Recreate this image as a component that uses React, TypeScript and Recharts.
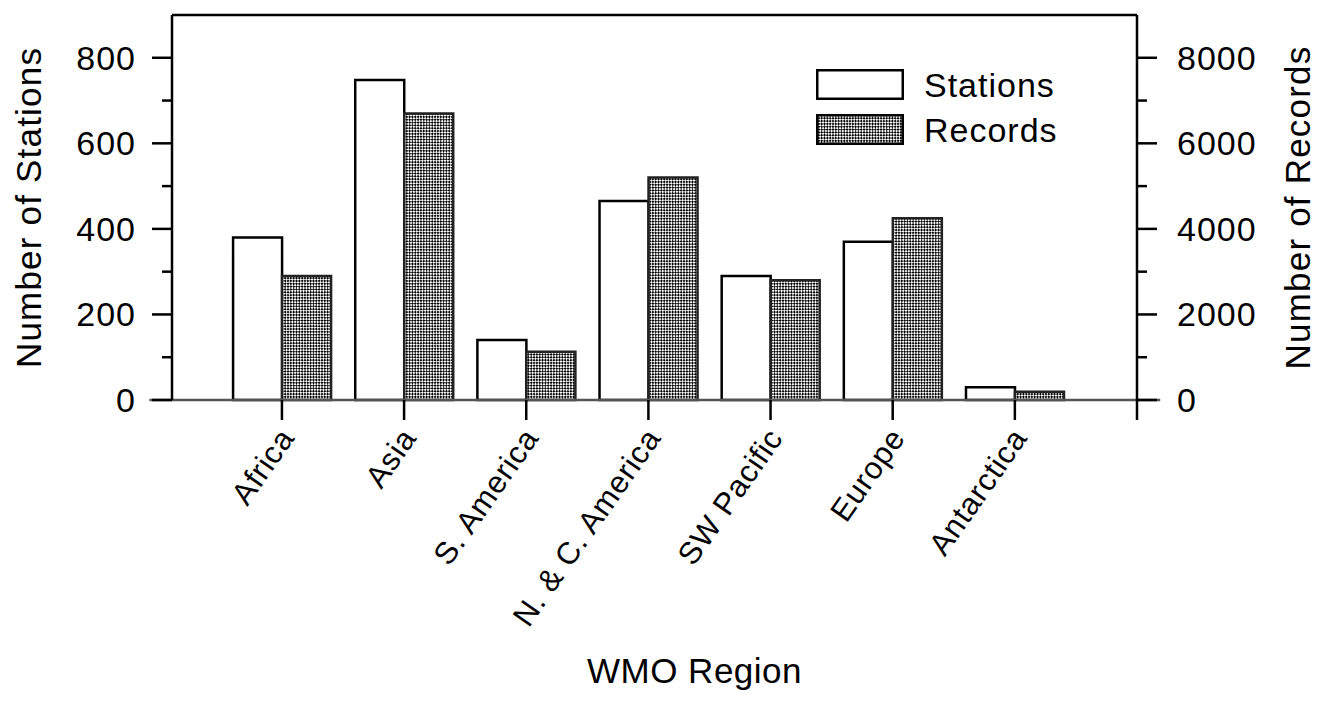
import React from "react";
import { BarChart, Bar, XAxis, YAxis, ReferenceLine, Legend } from "recharts";

const categories = ["Africa", "Asia", "S. America", "N. & C. America", "SW Pacific", "Europe", "Antarctica"];
const stations = [380, 748, 140, 465, 290, 370, 30];
const records = [2900, 6700, 1130, 5200, 2800, 4250, 190];
const leftTicks = [0, 100, 200, 300, 400, 500, 600, 700, 800];
const rightTicks = [0, 1000, 2000, 3000, 4000, 5000, 6000, 7000, 8000];
const xTicks = [1, 2, 3, 4, 5, 6, 7, 8];

const data = categories.map((name, i) => ({ name, pos: i + 1, stations: stations[i], records: records[i] }));

const FONT = "'Liberation Sans', Arial, Helvetica, sans-serif";
const TICK_SIZE = 20;
const TICK_MARGIN = 16;

const LeftTick = (props: any) => {
  const { x, y, payload } = props;
  const v = payload.value;
  const major = v % 200 === 0;
  const axisX = x + TICK_SIZE + TICK_MARGIN;
  return (
    <g>
      <line x1={axisX - (major ? 20 : 10)} x2={axisX} y1={y} y2={y} stroke="#000" strokeWidth={2.5} />
      {major && (
        <text x={x} y={y} textAnchor="end" dominantBaseline="central" fontSize={34} letterSpacing={1} fontFamily={FONT} fill="#000">
          {v}
        </text>
      )}
    </g>
  );
};

const RightTick = (props: any) => {
  const { x, y, payload } = props;
  const v = payload.value;
  const major = v % 2000 === 0;
  const axisX = x - TICK_SIZE - TICK_MARGIN;
  return (
    <g>
      <line x1={axisX} x2={axisX + (major ? 20 : 10)} y1={y} y2={y} stroke="#000" strokeWidth={2.5} />
      {major && (
        <text x={x + 4} y={y} textAnchor="start" dominantBaseline="central" fontSize={34} letterSpacing={1} fontFamily={FONT} fill="#000">
          {v}
        </text>
      )}
    </g>
  );
};

const BottomTick = (props: any) => {
  const { x, y, payload } = props;
  const idx = payload.value - 1;
  const label = categories[idx];
  if (!label) return null;
  const ax = x + 5;
  const ay = y + 10;
  return (
    <text
      x={ax}
      y={ay}
      transform={`rotate(-55, ${ax}, ${ay})`}
      textAnchor="end"
      dominantBaseline="central"
      fontSize={31}
      letterSpacing={0.8}
      fontFamily={FONT}
      fill="#000"
    >
      {label}
    </text>
  );
};

const LegendContent = () => (
  <div style={{ fontFamily: FONT, fontSize: 34, letterSpacing: 1, color: "#000", lineHeight: 1 }}>
    {[
      { label: "Stations", fill: "#fff" },
      { label: "Records", fill: "url(#hatchLegend)" },
    ].map((item) => (
      <div key={item.label} style={{ display: "flex", alignItems: "center", height: 45 }}>
        <svg width={88} height={31} style={{ display: "block" }}>
          <defs>
            <pattern id="hatchLegend" width={4} height={4} patternUnits="userSpaceOnUse" patternTransform="rotate(45)">
              <rect width={4} height={4} fill="#fff" />
              <rect width={2} height={2} fill="#000" />
              <rect x={2} y={2} width={2} height={2} fill="#000" />
            </pattern>
          </defs>
          <rect x={1.25} y={1.25} width={85.5} height={28.5} fill={item.fill} stroke="#000" strokeWidth={2.5} />
        </svg>
        <span style={{ marginLeft: 20 }}>{item.label}</span>
      </div>
    ))}
  </div>
);

export default function App() {
  return (
    <div style={{ width: 1313, height: 693, background: "#fff" }}>
      <BarChart
        width={1313}
        height={693}
        data={data}
        margin={{ top: 7, right: 0, bottom: 0, left: 0 }}
        barGap={0}
        barCategoryGap="10%"
      >
        <defs>
          <pattern id="hatch" width={4} height={4} patternUnits="userSpaceOnUse" patternTransform="rotate(45)">
            <rect width={4} height={4} fill="#fff" />
            <rect width={2} height={2} fill="#000" />
            <rect x={2} y={2} width={2} height={2} fill="#000" />
          </pattern>
        </defs>
        <XAxis
          dataKey="pos"
          type="number"
          domain={[0.1, 8]}
          allowDataOverflow
          ticks={xTicks}
          interval={0}
          height={301}
          axisLine={false}
          tickSize={20}
          tickLine={{ stroke: "#000", strokeWidth: 2.5 }}
          tick={<BottomTick />}
          label={{
            content: (p: any) => {
              const vb = p.viewBox;
              return (
                <text
                  x={vb.x + vb.width / 2 + 40}
                  y={vb.y + 283}
                  textAnchor="middle"
                  fontSize={35}
                  letterSpacing={0.5}
                  fontFamily={FONT}
                  fill="#000"
                >
                  WMO Region
                </text>
              );
            },
          }}
        />
        <YAxis
          yAxisId="left"
          orientation="left"
          width={164}
          domain={[0, 900]}
          ticks={leftTicks}
          interval={0}
          tickSize={TICK_SIZE}
          tickMargin={TICK_MARGIN}
          tickLine={false}
          axisLine={{ stroke: "#000", strokeWidth: 2.5 }}
          tick={<LeftTick />}
          label={{
            content: (p: any) => {
              const vb = p.viewBox;
              const cx = vb.x + 20;
              const cy = vb.y + vb.height / 2;
              return (
                <text
                  x={cx}
                  y={cy}
                  transform={`rotate(-90, ${cx}, ${cy})`}
                  textAnchor="middle"
                  dominantBaseline="central"
                  fontSize={35}
                  letterSpacing={1.2}
                  fontFamily={FONT}
                  fill="#000"
                >
                  Number of Stations
                </text>
              );
            },
          }}
        />
        <YAxis
          yAxisId="right"
          orientation="right"
          width={184}
          domain={[0, 9000]}
          ticks={rightTicks}
          interval={0}
          tickSize={TICK_SIZE}
          tickMargin={TICK_MARGIN}
          tickLine={false}
          axisLine={{ stroke: "#000", strokeWidth: 2.5 }}
          tick={<RightTick />}
          label={{
            content: (p: any) => {
              const vb = p.viewBox;
              const cx = vb.x + 160;
              const cy = vb.y + vb.height / 2;
              return (
                <text
                  x={cx}
                  y={cy}
                  transform={`rotate(-90, ${cx}, ${cy})`}
                  textAnchor="middle"
                  dominantBaseline="central"
                  fontSize={35}
                  letterSpacing={1.2}
                  fontFamily={FONT}
                  fill="#000"
                >
                  Number of Records
                </text>
              );
            },
          }}
        />
        <ReferenceLine yAxisId="left" y={900} stroke="#000" strokeWidth={2.5} />
        <Bar yAxisId="left" dataKey="stations" fill="#fff" stroke="#000" strokeWidth={2.5} isAnimationActive={false} />
        <Bar yAxisId="right" dataKey="records" fill="url(#hatch)" stroke="#222" strokeWidth={2.5} isAnimationActive={false} />
        <ReferenceLine
          yAxisId="left"
          segment={[
            { x: -0.085, y: 0 },
            { x: 8.19, y: 0 },
          ]}
          ifOverflow="visible"
          stroke="#555"
          strokeWidth={2.5}
        />
        <Legend
          layout="vertical"
          align="center"
          verticalAlign="middle"
          content={<LegendContent />}
          wrapperStyle={{ position: "absolute", left: 808, top: 54, width: 280 }}
        />
      </BarChart>
    </div>
  );
}
